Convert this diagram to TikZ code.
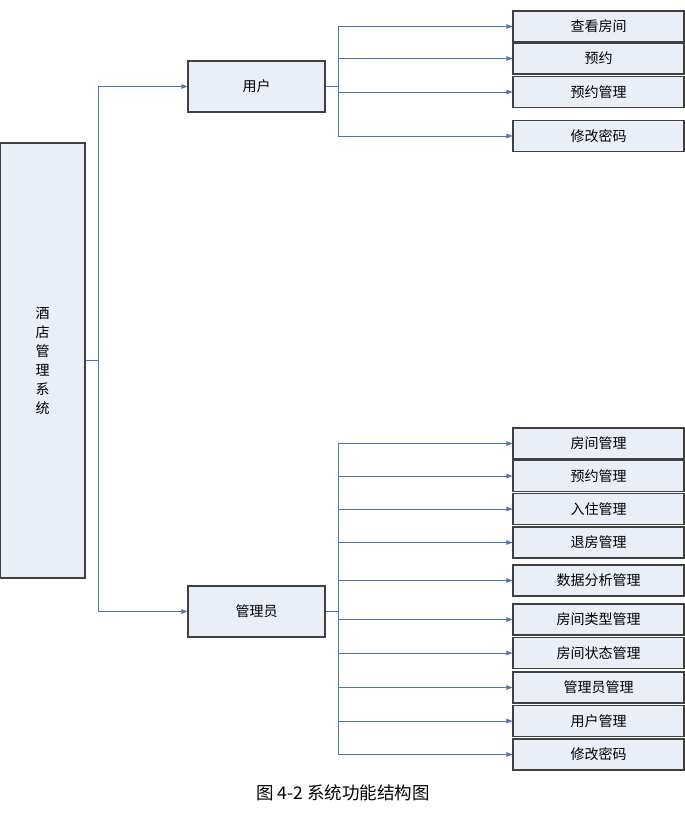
\documentclass[tikz,border=0pt]{standalone}
\usepackage{fontspec}
\setmainfont{Noto Sans CJK SC}
\usetikzlibrary{arrows.meta}
\definecolor{boxfill}{HTML}{E9EEF7}
\definecolor{linkblue}{HTML}{4F76AD}
\tikzset{
  box/.style={draw=black!75, line width=1.1pt, fill=boxfill, inner sep=0pt,
    font=\fontsize{14}{16}\selectfont},
  leaf/.style={box, minimum width=171pt, minimum height=31pt},
  mid/.style={box, minimum width=137pt, minimum height=51pt},
  link/.style={draw=linkblue, line width=0.8pt},
  arrow/.style={link, -{Triangle[length=6pt,width=4.5pt]}}
}
\begin{document}
\begin{tikzpicture}[x=1pt,y=-1pt]
\useasboundingbox (0,0) rectangle (685,835);
\node[box, minimum width=85pt, minimum height=435pt, align=center,
  font=\fontsize{14}{19}\selectfont] (hotel) at (42.5,360.5)
  {酒\\店\\管\\理\\系\\统};
\node[mid] (user) at (256.5,86.5) {用户};
\node[mid] (admin) at (256.5,611.5) {管理员};

\coordinate (hs) at (98,360.5);
\draw[link] (hotel.east) -- (hs);
\draw[arrow] (hs) |- (user.west);
\draw[arrow] (hs) |- (admin.west);

% user functions
\coordinate (us) at (338,86.5);
\draw[link] (user.east) -- (us);
\foreach \n/\y/\t in {u1/26.5/查看房间, u2/58.5/预约, u3/92/预约管理, u4/136/修改密码}{
  \node[leaf] (\n) at (598.5,\y) {\t};
  \draw[arrow] (us) |- (\n.west);
}

% admin functions
\coordinate (as) at (338,611.5);
\draw[link] (admin.east) -- (as);
\foreach \n/\y/\t in {a1/443.5/房间管理, a2/476/预约管理, a3/509/入住管理,
  a4/542.5/退房管理, a5/580.5/数据分析管理, a6/619.5/房间类型管理,
  a7/653/房间状态管理, a8/687.5/管理员管理, a9/721/用户管理, a10/754.5/修改密码}{
  \node[leaf] (\n) at (598.5,\y) {\t};
  \draw[arrow] (as) |- (\n.west);
}

\node[font=\fontsize{17.5}{20}\selectfont] (cap) at (343,793) {图 4-2 系统功能结构图};
\end{tikzpicture}
\end{document}
